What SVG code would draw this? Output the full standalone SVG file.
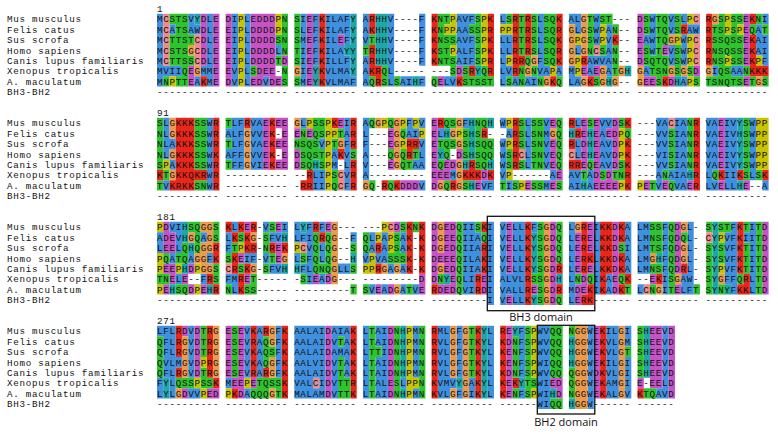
<svg xmlns="http://www.w3.org/2000/svg" width="778" height="434" viewBox="0 0 778 434">
<style>
.bg path{fill:none;stroke-width:1}
.b{stroke:#4090e0}.r{stroke:#e8261a}.m{stroke:#c652c6}.g{stroke:#2ec42e}.o{stroke:#ec9a4c}.y{stroke:#c8c400}.c{stroke:#1aa8a8}.p{stroke:#f08a8a}
.s{font-family:"Liberation Mono","DejaVu Sans Mono",monospace;font-size:9.2px;letter-spacing:0.72px;fill:#111}
.lab{font-family:"Open Sans","Liberation Sans",sans-serif;font-size:11px;fill:#111;text-anchor:middle}
.box{fill:none;stroke:#111;stroke-width:1.3}
</style>
<rect width="778" height="434" fill="#fff"/>
<g class="bg" transform="translate(157,13.8) scale(6.241,10.4)">
<g id="block1">
<path class="b" d="M0 .5h1M5 .5h1M8 .5h1M12 .5h1M14 .5h1M23 .5h1M25 .5h1M27 .5h4M33 .5h1M37 .5h1M42 .5h1M48 .5h3M55 .5h1M61 .5h1M66 .5h2M70 .5h1M79 .5h1M82 .5h1M84 .5h1M97 .5h1M0 1.5h1M2 1.5h1M5 1.5h2M8 1.5h1M12 1.5h1M14 1.5h1M23 1.5h1M25 1.5h1M27 1.5h4M33 1.5h1M37 1.5h1M42 1.5h1M48 1.5h2M61 1.5h1M67 1.5h1M70 1.5h1M72 1.5h1M79 1.5h1M82 1.5h1M85 1.5h2M96 1.5h1M0 2.5h1M8 2.5h1M12 2.5h1M14 2.5h1M23 2.5h1M25 2.5h1M27 2.5h2M30 2.5h1M33 2.5h1M37 2.5h1M42 2.5h1M48 2.5h3M55 2.5h2M61 2.5h1M70 2.5h1M72 2.5h1M78 2.5h2M84 2.5h1M96 2.5h2M0 3.5h1M8 3.5h1M12 3.5h1M14 3.5h1M19 3.5h1M23 3.5h1M25 3.5h1M27 3.5h3M37 3.5h1M42 3.5h1M48 3.5h3M55 3.5h2M61 3.5h1M67 3.5h1M72 3.5h1M79 3.5h1M82 3.5h1M84 3.5h1M96 3.5h2M0 4.5h1M8 4.5h1M12 4.5h1M14 4.5h1M23 4.5h1M25 4.5h1M27 4.5h4M33 4.5h1M37 4.5h1M42 4.5h1M48 4.5h3M55 4.5h1M61 4.5h1M69 4.5h4M82 4.5h1M84 4.5h1M97 4.5h1M0 5.5h4M7 5.5h2M12 5.5h1M14 5.5h1M23 5.5h1M27 5.5h4M33 5.5h1M37 5.5h1M55 5.5h2M61 5.5h2M64 5.5h1M66 5.5h1M69 5.5h1M72 5.5h1M78 5.5h1M89 5.5h1M92 5.5h2M0 6.5h1M6 6.5h1M8 6.5h1M12 6.5h1M14 6.5h1M17 6.5h1M23 6.5h1M27 6.5h5M33 6.5h1M37 6.5h1M39 6.5h2M42 6.5h1M46 6.5h2M55 6.5h1M57 6.5h1M59 6.5h2M66 6.5h2M84 6.5h1"/>
<path class="p" d="M1 .5h1M86 .5h1M1 1.5h1M1 2.5h1M6 2.5h1M86 2.5h1M1 3.5h1M6 3.5h1M70 3.5h1M86 3.5h1M1 4.5h1M6 4.5h1M86 4.5h1"/>
<path class="g" d="M2 .5h3M20 .5h1M22 .5h1M45 .5h2M51 .5h1M56 .5h1M58 .5h1M60 .5h1M62 .5h2M69 .5h1M71 .5h2M78 .5h1M80 .5h2M83 .5h1M90 .5h1M92 .5h2M96 .5h1M3 1.5h2M20 1.5h1M22 1.5h1M45 1.5h1M50 1.5h2M58 1.5h1M60 1.5h1M62 1.5h2M69 1.5h1M73 1.5h1M78 1.5h1M80 1.5h2M83 1.5h1M89 1.5h2M92 1.5h1M95 1.5h1M97 1.5h1M2 2.5h4M19 2.5h2M22 2.5h1M34 2.5h1M45 2.5h3M51 2.5h1M58 2.5h1M60 2.5h1M62 2.5h2M69 2.5h1M80 2.5h2M89 2.5h5M2 3.5h3M20 3.5h1M22 3.5h1M33 3.5h1M45 3.5h2M51 3.5h1M58 3.5h1M60 3.5h1M62 3.5h2M69 3.5h1M71 3.5h1M73 3.5h1M78 3.5h1M80 3.5h1M83 3.5h1M89 3.5h5M2 4.5h4M19 4.5h1M22 4.5h1M45 4.5h3M51 4.5h1M59 4.5h1M62 4.5h2M73 4.5h1M78 4.5h4M83 4.5h1M89 4.5h2M92 4.5h2M4 5.5h1M15 5.5h1M20 5.5h1M36 5.5h1M47 5.5h1M49 5.5h1M52 5.5h1M58 5.5h1M60 5.5h1M73 5.5h1M79 5.5h3M83 5.5h1M85 5.5h1M90 5.5h2M94 5.5h1M1 6.5h1M3 6.5h2M20 6.5h1M22 6.5h1M34 6.5h1M36 6.5h1M38 6.5h1M44 6.5h1M49 6.5h5M56 6.5h1M58 6.5h1M61 6.5h1M64 6.5h1M70 6.5h1M80 6.5h1M86 6.5h1M88 6.5h6M95 6.5h1M97 6.5h1"/>
<path class="c" d="M6 .5h1M31 .5h1M35 .5h2M31 1.5h1M35 1.5h2M31 2.5h1M35 2.5h2M30 3.5h2M35 3.5h2M31 4.5h1M35 4.5h2M25 5.5h1M31 5.5h1M51 5.5h1M75 5.5h1M25 6.5h1M41 6.5h1M72 6.5h1M83 6.5h1"/>
<path class="m" d="M7 .5h1M9 .5h1M11 .5h1M15 .5h4M24 .5h1M77 .5h1M94 .5h1M7 1.5h1M9 1.5h1M11 1.5h1M15 1.5h4M24 1.5h1M77 1.5h1M94 1.5h1M7 2.5h1M9 2.5h1M11 2.5h1M15 2.5h4M24 2.5h1M29 2.5h1M77 2.5h1M94 2.5h1M7 3.5h1M9 3.5h1M11 3.5h1M15 3.5h4M24 3.5h1M77 3.5h1M81 3.5h1M94 3.5h1M7 4.5h1M9 4.5h1M11 4.5h1M15 4.5h4M20 4.5h1M24 4.5h1M77 4.5h1M94 4.5h1M5 5.5h1M9 5.5h1M11 5.5h1M16 5.5h3M24 5.5h1M48 5.5h1M68 5.5h1M70 5.5h1M86 5.5h1M5 6.5h1M9 6.5h1M11 6.5h1M15 6.5h2M18 6.5h2M24 6.5h1M45 6.5h1M78 6.5h2M82 6.5h1M94 6.5h1"/>
<path class="y" d="M13 .5h1M19 .5h1M47 .5h1M52 .5h1M85 .5h1M91 .5h1M13 1.5h1M19 1.5h1M46 1.5h2M52 1.5h1M55 1.5h2M71 1.5h1M91 1.5h1M93 1.5h1M13 2.5h1M52 2.5h1M67 2.5h1M71 2.5h1M83 2.5h1M85 2.5h1M13 3.5h1M47 3.5h1M52 3.5h1M85 3.5h1M13 4.5h1M52 4.5h1M56 4.5h1M67 4.5h1M85 4.5h1M91 4.5h1M96 4.5h1M13 5.5h1M63 5.5h1M67 5.5h1M2 6.5h1M13 6.5h1M85 6.5h1"/>
<path class="r" d="M26 .5h1M34 .5h1M44 .5h1M53 .5h1M57 .5h1M59 .5h1M64 .5h1M88 .5h1M95 .5h1M26 1.5h1M34 1.5h1M44 1.5h1M53 1.5h1M57 1.5h1M59 1.5h1M64 1.5h1M84 1.5h1M88 1.5h1M26 2.5h1M44 2.5h1M53 2.5h1M57 2.5h1M59 2.5h1M64 2.5h1M73 2.5h1M88 2.5h1M95 2.5h1M26 3.5h1M34 3.5h1M44 3.5h1M53 3.5h1M57 3.5h1M59 3.5h1M64 3.5h1M88 3.5h1M95 3.5h1M26 4.5h1M34 4.5h1M44 4.5h1M53 4.5h1M57 4.5h2M64 4.5h1M68 4.5h1M88 4.5h1M95 4.5h1M26 5.5h1M34 5.5h2M50 5.5h1M53 5.5h1M57 5.5h1M95 5.5h3M7 6.5h1M26 6.5h1M35 6.5h1M48 6.5h1M63 6.5h1M69 6.5h1M81 6.5h1"/>
<path class="o" d="M68 .5h1M89 .5h1M66 1.5h1M68 1.5h1M66 2.5h1M68 2.5h1M82 2.5h1M5 3.5h1M66 3.5h1M68 3.5h1M60 4.5h1M66 4.5h1M6 5.5h1M22 5.5h1M59 5.5h1M71 5.5h1M74 5.5h1M77 5.5h1M82 5.5h1M84 5.5h1M88 5.5h1M62 6.5h1M68 6.5h1M71 6.5h1M73 6.5h1M77 6.5h1M96 6.5h1"/>
</g>
<g id="block2">
<path class="g" d="M0 10.5h1M6 10.5h2M11 10.5h1M25 10.5h2M34 10.5h1M37 10.5h1M46 10.5h2M51 10.5h2M58 10.5h1M60 10.5h2M64 10.5h1M69 10.5h1M74 10.5h1M85 10.5h1M94 10.5h1M0 11.5h1M6 11.5h2M23 11.5h1M25 11.5h2M29 11.5h1M39 11.5h1M49 11.5h1M51 11.5h1M58 11.5h1M60 11.5h2M64 11.5h1M75 11.5h1M82 11.5h1M85 11.5h1M94 11.5h1M0 12.5h1M6 12.5h2M11 12.5h1M22 12.5h4M28 12.5h1M45 12.5h3M49 12.5h1M51 12.5h3M58 12.5h1M60 12.5h2M64 12.5h1M82 12.5h1M85 12.5h1M94 12.5h1M0 13.5h1M6 13.5h2M23 13.5h4M31 13.5h1M37 13.5h1M39 13.5h1M41 13.5h1M46 13.5h1M49 13.5h1M51 13.5h3M56 13.5h1M60 13.5h2M64 13.5h1M82 13.5h1M85 13.5h1M94 13.5h1M0 14.5h1M6 14.5h2M11 14.5h1M23 14.5h2M26 14.5h1M39 14.5h2M45 14.5h1M51 14.5h2M56 14.5h1M58 14.5h1M60 14.5h2M64 14.5h1M69 14.5h1M74 14.5h1M82 14.5h1M85 14.5h1M94 14.5h1M1 15.5h1M28 15.5h1M68 15.5h1M71 15.5h1M73 15.5h2M81 15.5h1M89 15.5h1M94 15.5h1M96 15.5h1M0 16.5h1M6 16.5h2M28 16.5h1M34 16.5h1M37 16.5h1M46 16.5h1M49 16.5h1M55 16.5h1M57 16.5h1M60 16.5h2M64 16.5h1M79 16.5h1M82 16.5h1"/>
<path class="b" d="M1 10.5h1M8 10.5h1M12 10.5h2M15 10.5h2M23 10.5h1M30 10.5h1M33 10.5h1M40 10.5h1M42 10.5h1M49 10.5h1M55 10.5h1M59 10.5h1M62 10.5h1M67 10.5h1M71 10.5h2M80 10.5h2M83 10.5h2M88 10.5h2M91 10.5h2M95 10.5h1M1 11.5h1M8 11.5h1M11 11.5h3M15 11.5h2M30 11.5h1M33 11.5h1M40 11.5h2M45 11.5h1M56 11.5h1M59 11.5h1M62 11.5h1M71 11.5h1M80 11.5h2M83 11.5h2M88 11.5h2M91 11.5h2M95 11.5h1M1 12.5h2M8 12.5h1M12 12.5h2M15 12.5h2M26 12.5h1M30 12.5h1M33 12.5h1M42 12.5h1M55 12.5h1M59 12.5h1M62 12.5h1M67 12.5h1M71 12.5h2M80 12.5h2M83 12.5h2M88 12.5h2M91 12.5h2M95 12.5h1M1 13.5h1M8 13.5h1M11 13.5h3M15 13.5h2M28 13.5h1M30 13.5h1M33 13.5h1M42 13.5h1M55 13.5h1M59 13.5h1M62 13.5h1M67 13.5h1M71 13.5h2M80 13.5h2M83 13.5h2M88 13.5h2M91 13.5h2M95 13.5h1M2 14.5h1M8 14.5h1M12 14.5h2M15 14.5h2M28 14.5h1M30 14.5h1M33 14.5h1M41 14.5h2M55 14.5h1M59 14.5h1M62 14.5h1M71 14.5h2M80 14.5h2M83 14.5h2M88 14.5h2M91 14.5h2M95 14.5h1M8 15.5h1M25 15.5h2M30 15.5h1M33 15.5h1M47 15.5h1M55 15.5h1M63 15.5h1M66 15.5h2M69 15.5h1M80 15.5h1M82 15.5h3M88 15.5h1M91 15.5h2M95 15.5h1M1 16.5h1M8 16.5h1M25 16.5h2M30 16.5h1M42 16.5h1M52 16.5h2M56 16.5h1M62 16.5h1M66 16.5h2M69 16.5h1M80 16.5h1M83 16.5h2M88 16.5h2M91 16.5h2M97 16.5h1"/>
<path class="o" d="M2 10.5h1M22 10.5h1M35 10.5h1M38 10.5h1M48 10.5h1M2 11.5h1M14 11.5h1M38 11.5h1M47 11.5h1M63 11.5h1M14 12.5h1M29 12.5h1M38 12.5h1M48 12.5h1M2 13.5h1M14 13.5h1M38 13.5h1M14 14.5h1M38 14.5h1M48 14.5h1M2 15.5h1M48 15.5h1M33 16.5h1M45 16.5h1M48 16.5h1"/>
<path class="r" d="M3 10.5h3M9 10.5h1M14 10.5h1M18 10.5h1M28 10.5h1M31 10.5h1M45 10.5h1M57 10.5h1M66 10.5h1M75 10.5h1M86 10.5h1M3 11.5h3M9 11.5h1M18 11.5h1M31 11.5h1M52 11.5h1M57 11.5h1M67 11.5h1M86 11.5h1M3 12.5h3M9 12.5h1M18 12.5h1M31 12.5h1M40 12.5h2M57 12.5h1M66 12.5h1M75 12.5h1M86 12.5h1M3 13.5h3M9 13.5h1M18 13.5h1M29 13.5h1M40 13.5h1M57 13.5h1M75 13.5h1M86 13.5h1M3 14.5h3M9 14.5h1M18 14.5h1M31 14.5h1M50 14.5h1M57 14.5h1M66 14.5h2M75 14.5h1M86 14.5h1M0 15.5h1M3 15.5h5M9 15.5h1M24 15.5h1M31 15.5h1M49 15.5h3M53 15.5h1M75 15.5h1M86 15.5h1M90 15.5h1M93 15.5h1M97 15.5h1M2 16.5h4M9 16.5h1M23 16.5h2M31 16.5h1M36 16.5h1M38 16.5h1M47 16.5h1M75 16.5h1M86 16.5h1"/>
<path class="m" d="M17 10.5h1M19 10.5h2M29 10.5h1M44 10.5h1M63 10.5h1M68 10.5h1M70 10.5h1M73 10.5h1M90 10.5h1M17 11.5h1M20 11.5h1M22 11.5h1M24 11.5h1M37 11.5h1M44 11.5h1M68 11.5h1M70 11.5h1M72 11.5h2M90 11.5h1M17 12.5h1M19 12.5h2M37 12.5h1M44 12.5h1M63 12.5h1M68 12.5h1M70 12.5h1M73 12.5h1M90 12.5h1M17 13.5h1M20 13.5h1M22 13.5h1M44 13.5h1M48 13.5h1M63 13.5h1M68 13.5h1M70 13.5h1M73 13.5h1M90 13.5h1M17 14.5h1M19 14.5h2M22 14.5h1M37 14.5h1M44 14.5h1M46 14.5h2M63 14.5h1M68 14.5h1M70 14.5h1M73 14.5h1M90 14.5h1M44 15.5h3M52 15.5h1M64 15.5h1M70 15.5h1M72 15.5h1M39 16.5h3M44 16.5h1M51 16.5h1M59 16.5h1M63 16.5h1M70 16.5h4M78 16.5h1M81 16.5h1M85 16.5h1M90 16.5h1M94 16.5h1"/>
<path class="y" d="M24 10.5h1M27 10.5h1M36 10.5h1M39 10.5h1M41 10.5h1M56 10.5h1M96 10.5h2M27 11.5h2M42 11.5h1M48 11.5h1M74 11.5h1M96 11.5h2M27 12.5h1M39 12.5h1M56 12.5h1M74 12.5h1M96 12.5h2M27 13.5h1M74 13.5h1M96 13.5h2M1 14.5h1M27 14.5h1M96 14.5h2M27 15.5h1M56 15.5h1M27 16.5h1M58 16.5h1M74 16.5h1M77 16.5h1"/>
<path class="c" d="M50 10.5h1M53 10.5h1M93 10.5h1M46 11.5h1M50 11.5h1M66 11.5h1M69 11.5h1M93 11.5h1M50 12.5h1M69 12.5h1M93 12.5h1M45 13.5h1M50 13.5h1M69 13.5h1M93 13.5h1M25 14.5h1M49 14.5h1M53 14.5h1M93 14.5h1M85 15.5h1M50 16.5h1M68 16.5h1M93 16.5h1"/>
<path class="p" d="M82 10.5h1M58 13.5h1M66 13.5h1M29 15.5h1M29 16.5h1"/>
</g>
<g id="block3">
<path class="y" d="M0 20.5h1M36 20.5h1M35 21.5h1M37 21.5h1M90 21.5h1M13 22.5h1M22 22.5h1M37 22.5h1M0 23.5h1M34 23.5h1M0 24.5h1M3 24.5h1M6 24.5h1M33 24.5h2M90 24.5h1M0 26.5h1M6 26.5h1"/>
<path class="m" d="M1 20.5h1M14 20.5h1M19 20.5h1M27 20.5h1M38 20.5h1M44 20.5h1M46 20.5h2M56 20.5h1M63 20.5h1M69 20.5h1M73 20.5h1M83 20.5h1M97 20.5h1M1 21.5h2M44 21.5h1M46 21.5h2M56 21.5h1M63 21.5h1M67 21.5h1M69 21.5h1M73 21.5h1M83 21.5h1M97 21.5h1M1 22.5h2M19 22.5h1M44 22.5h1M46 22.5h2M56 22.5h1M63 22.5h1M67 22.5h1M69 22.5h1M73 22.5h1M83 22.5h1M97 22.5h1M13 23.5h1M19 23.5h1M44 23.5h4M56 23.5h1M63 23.5h1M67 23.5h1M73 23.5h1M83 23.5h1M97 23.5h1M1 24.5h2M5 24.5h1M44 24.5h1M46 24.5h2M56 24.5h1M63 24.5h1M67 24.5h1M69 24.5h1M73 24.5h1M83 24.5h1M97 24.5h1M2 25.5h1M4 25.5h1M14 25.5h1M25 25.5h1M27 25.5h1M42 25.5h1M44 25.5h1M47 25.5h1M52 25.5h1M63 25.5h1M68 25.5h1M73 25.5h1M79 25.5h1M97 25.5h1M1 26.5h1M5 26.5h1M7 26.5h1M35 26.5h1M37 26.5h1M42 26.5h1M45 26.5h3M52 26.5h1M60 26.5h1M63 26.5h1M67 26.5h2M73 26.5h1M83 26.5h1M97 26.5h1M56 27.5h1M63 27.5h1M67 27.5h1"/>
<path class="b" d="M2 20.5h2M12 20.5h1M17 20.5h1M20 20.5h1M22 20.5h1M24 20.5h1M26 20.5h1M49 20.5h2M53 20.5h1M55 20.5h1M57 20.5h2M60 20.5h1M66 20.5h1M70 20.5h1M75 20.5h1M77 20.5h2M81 20.5h1M85 20.5h1M92 20.5h1M95 20.5h1M0 21.5h1M3 21.5h1M7 21.5h1M11 21.5h1M18 21.5h2M22 21.5h3M31 21.5h1M34 21.5h1M36 21.5h1M39 21.5h1M49 21.5h3M53 21.5h1M55 21.5h1M57 21.5h2M66 21.5h1M70 21.5h1M75 21.5h1M77 21.5h2M81 21.5h1M85 21.5h1M91 21.5h2M94 21.5h2M0 22.5h1M3 22.5h1M11 22.5h1M24 22.5h1M26 22.5h1M34 22.5h1M36 22.5h1M39 22.5h1M49 22.5h3M53 22.5h1M55 22.5h1M57 22.5h2M66 22.5h1M70 22.5h1M75 22.5h1M77 22.5h2M81 22.5h1M85 22.5h1M91 22.5h2M95 22.5h1M2 23.5h1M5 23.5h1M8 23.5h1M14 23.5h2M17 23.5h1M22 23.5h1M24 23.5h1M26 23.5h1M33 23.5h1M35 23.5h2M49 23.5h3M53 23.5h1M55 23.5h1M57 23.5h2M66 23.5h1M70 23.5h1M75 23.5h1M77 23.5h2M81 23.5h1M85 23.5h1M91 23.5h2M95 23.5h1M18 24.5h2M23 24.5h2M29 24.5h2M37 24.5h1M39 24.5h1M49 24.5h3M53 24.5h1M55 24.5h1M57 24.5h2M66 24.5h1M70 24.5h1M75 24.5h1M77 24.5h2M81 24.5h1M85 24.5h1M91 24.5h2M95 24.5h1M3 25.5h1M7 25.5h1M11 25.5h2M24 25.5h1M26 25.5h1M49 25.5h2M53 25.5h1M55 25.5h4M66 25.5h1M70 25.5h1M72 25.5h1M81 25.5h1M84 25.5h2M91 25.5h2M95 25.5h1M12 26.5h1M34 26.5h1M36 26.5h1M39 26.5h1M41 26.5h1M49 26.5h2M53 26.5h1M55 26.5h4M66 26.5h1M70 26.5h1M72 26.5h1M77 26.5h1M81 26.5h1M84 26.5h2M92 26.5h1M95 26.5h1M53 27.5h1M55 27.5h1M57 27.5h2M66 27.5h1"/>
<path class="c" d="M4 20.5h1M23 20.5h1M89 20.5h1M4 21.5h1M20 21.5h1M60 21.5h1M89 21.5h1M5 22.5h1M60 22.5h1M89 22.5h1M31 23.5h1M60 23.5h1M80 23.5h1M89 23.5h1M4 24.5h1M20 24.5h1M22 24.5h1M60 24.5h1M89 24.5h1M46 25.5h1M64 25.5h1M89 25.5h1M2 26.5h1M8 26.5h1M89 26.5h1M91 26.5h1M60 27.5h1"/>
<path class="g" d="M5 20.5h2M9 20.5h1M18 20.5h1M39 20.5h1M41 20.5h1M48 20.5h1M51 20.5h1M61 20.5h1M64 20.5h1M79 20.5h2M82 20.5h1M88 20.5h1M90 20.5h2M94 20.5h1M96 20.5h1M6 21.5h1M9 21.5h1M13 21.5h1M17 21.5h1M25 21.5h1M27 21.5h1M33 21.5h1M38 21.5h1M48 21.5h1M52 21.5h1M61 21.5h1M64 21.5h1M79 21.5h2M82 21.5h1M84 21.5h1M96 21.5h1M4 22.5h1M6 22.5h1M12 22.5h1M17 22.5h1M25 22.5h1M27 22.5h1M31 22.5h1M33 22.5h1M38 22.5h1M48 22.5h1M61 22.5h1M64 22.5h1M74 22.5h1M79 22.5h2M82 22.5h1M88 22.5h1M90 22.5h1M94 22.5h1M96 22.5h1M1 23.5h1M3 23.5h2M11 23.5h1M18 23.5h1M23 23.5h1M25 23.5h1M27 23.5h1M37 23.5h3M48 23.5h1M61 23.5h1M64 23.5h1M82 23.5h1M88 23.5h1M90 23.5h1M94 23.5h1M96 23.5h1M9 24.5h1M13 24.5h1M17 24.5h1M25 24.5h3M31 24.5h1M48 24.5h1M61 24.5h1M79 24.5h2M82 24.5h1M88 24.5h1M94 24.5h1M96 24.5h1M0 25.5h2M9 25.5h1M15 25.5h1M23 25.5h1M45 25.5h1M48 25.5h1M60 25.5h2M67 25.5h1M69 25.5h1M74 25.5h1M82 25.5h1M88 25.5h1M93 25.5h1M96 25.5h1M3 26.5h2M11 26.5h1M14 26.5h2M31 26.5h1M33 26.5h1M40 26.5h1M48 26.5h1M61 26.5h1M75 26.5h1M79 26.5h1M82 26.5h1M86 26.5h1M88 26.5h1M90 26.5h1M96 26.5h1M61 27.5h1M64 27.5h1"/>
<path class="o" d="M7 20.5h2M28 20.5h1M45 20.5h1M62 20.5h1M67 20.5h1M84 20.5h1M5 21.5h1M8 21.5h1M15 21.5h1M28 21.5h1M45 21.5h1M62 21.5h1M7 22.5h2M28 22.5h1M45 22.5h1M62 22.5h1M84 22.5h1M6 23.5h2M20 23.5h1M28 23.5h1M62 23.5h1M79 23.5h1M84 23.5h1M7 24.5h2M15 24.5h1M28 24.5h1M36 24.5h1M38 24.5h1M45 24.5h1M62 24.5h1M28 25.5h1M62 25.5h1M83 25.5h1M90 25.5h1M38 26.5h1M62 26.5h1M80 26.5h1M62 27.5h1"/>
<path class="r" d="M11 20.5h1M13 20.5h1M15 20.5h1M25 20.5h1M40 20.5h1M42 20.5h1M52 20.5h1M59 20.5h1M68 20.5h1M71 20.5h2M74 20.5h1M93 20.5h1M12 21.5h1M14 21.5h1M26 21.5h1M40 21.5h1M42 21.5h1M59 21.5h1M68 21.5h1M71 21.5h2M74 21.5h1M93 21.5h1M9 22.5h1M14 22.5h2M18 22.5h1M20 22.5h1M35 22.5h1M40 22.5h1M42 22.5h1M52 22.5h1M59 22.5h1M68 22.5h1M71 22.5h2M93 22.5h1M9 23.5h1M12 23.5h1M40 23.5h1M42 23.5h1M52 23.5h1M59 23.5h1M68 23.5h2M71 23.5h2M74 23.5h1M93 23.5h1M12 24.5h1M14 24.5h1M35 24.5h1M40 24.5h1M42 24.5h1M52 24.5h1M59 24.5h1M64 24.5h1M68 24.5h1M71 24.5h2M74 24.5h1M84 24.5h1M93 24.5h1M8 25.5h1M13 25.5h1M51 25.5h1M59 25.5h1M71 25.5h1M75 25.5h1M80 25.5h1M94 25.5h1M9 26.5h1M13 26.5h1M44 26.5h1M51 26.5h1M59 26.5h1M64 26.5h1M69 26.5h1M71 26.5h1M74 26.5h1M93 26.5h2M59 27.5h1M68 27.5h2"/>
<path class="p" d="M37 20.5h1M88 21.5h1M23 22.5h1M11 24.5h1M78 26.5h1"/>
</g>
<g id="block4">
<path class="b" d="M0 30.5h3M5 30.5h1M14 30.5h1M16 30.5h1M19 30.5h1M22 30.5h5M28 30.5h3M33 30.5h1M35 30.5h2M41 30.5h1M45 30.5h2M48 30.5h1M53 30.5h1M58 30.5h1M61 30.5h2M69 30.5h1M72 30.5h2M75 30.5h1M81 30.5h1M1 31.5h2M5 31.5h1M14 31.5h1M16 31.5h1M19 31.5h1M22 31.5h5M28 31.5h1M30 31.5h1M33 31.5h1M35 31.5h2M41 31.5h1M45 31.5h2M48 31.5h1M53 31.5h1M58 31.5h1M61 31.5h2M69 31.5h1M72 31.5h2M75 31.5h1M81 31.5h1M1 32.5h2M5 32.5h1M14 32.5h1M16 32.5h1M19 32.5h1M22 32.5h5M28 32.5h3M33 32.5h1M36 32.5h1M41 32.5h1M45 32.5h2M48 32.5h1M53 32.5h1M58 32.5h1M61 32.5h2M69 32.5h1M72 32.5h2M81 32.5h1M1 33.5h3M5 33.5h1M14 33.5h1M16 33.5h1M19 33.5h1M22 33.5h5M28 33.5h1M30 33.5h1M33 33.5h1M35 33.5h2M41 33.5h1M45 33.5h2M48 33.5h1M53 33.5h1M58 33.5h1M61 33.5h2M69 33.5h1M72 33.5h2M75 33.5h1M81 33.5h1M1 34.5h2M5 34.5h1M14 34.5h1M16 34.5h1M19 34.5h1M22 34.5h5M28 34.5h1M30 34.5h1M33 34.5h1M35 34.5h2M41 34.5h1M45 34.5h2M48 34.5h1M53 34.5h1M58 34.5h1M61 34.5h2M69 34.5h1M72 34.5h2M75 34.5h1M81 34.5h1M0 35.5h1M2 35.5h1M11 35.5h1M22 35.5h3M26 35.5h1M28 35.5h1M33 35.5h1M35 35.5h2M39 35.5h1M45 35.5h3M50 35.5h1M53 35.5h1M61 35.5h2M69 35.5h1M72 35.5h2M75 35.5h1M81 35.5h1M0 36.5h1M2 36.5h1M5 36.5h2M14 36.5h1M22 36.5h5M28 36.5h1M33 36.5h1M35 36.5h2M41 36.5h1M45 36.5h2M48 36.5h1M50 36.5h1M53 36.5h1M58 36.5h1M61 36.5h2M69 36.5h1M72 36.5h2M75 36.5h1M80 36.5h2M61 37.5h2M69 37.5h1"/>
<path class="r" d="M3 30.5h1M8 30.5h1M15 30.5h1M17 30.5h1M20 30.5h1M31 30.5h1M44 30.5h1M51 30.5h1M55 30.5h1M71 30.5h1M3 31.5h1M8 31.5h1M15 31.5h1M20 31.5h1M31 31.5h1M44 31.5h1M51 31.5h1M55 31.5h1M71 31.5h1M3 32.5h1M8 32.5h1M15 32.5h1M20 32.5h1M31 32.5h1M44 32.5h1M51 32.5h1M55 32.5h1M71 32.5h1M8 33.5h1M15 33.5h1M20 33.5h1M31 33.5h1M44 33.5h1M51 33.5h1M55 33.5h1M71 33.5h1M3 34.5h1M8 34.5h1M15 34.5h1M17 34.5h1M20 34.5h1M31 34.5h1M44 34.5h1M51 34.5h1M55 34.5h1M71 34.5h1M9 35.5h1M20 35.5h1M31 35.5h1M44 35.5h1M51 35.5h1M55 35.5h1M57 35.5h1M71 35.5h1M12 36.5h1M20 36.5h1M31 36.5h1M44 36.5h1M51 36.5h1M55 36.5h1M71 36.5h1M77 36.5h1"/>
<path class="m" d="M4 30.5h1M6 30.5h1M11 30.5h1M13 30.5h1M27 30.5h1M37 30.5h1M56 30.5h1M70 30.5h1M79 30.5h2M82 30.5h1M6 31.5h1M11 31.5h1M13 31.5h1M27 31.5h1M37 31.5h1M56 31.5h1M70 31.5h1M79 31.5h2M82 31.5h1M6 32.5h1M11 32.5h1M13 32.5h1M27 32.5h1M37 32.5h1M56 32.5h1M70 32.5h1M79 32.5h2M82 32.5h1M6 33.5h1M11 33.5h1M13 33.5h1M27 33.5h1M37 33.5h1M56 33.5h1M70 33.5h1M79 33.5h2M82 33.5h1M6 34.5h1M11 34.5h1M13 34.5h1M27 34.5h1M37 34.5h1M56 34.5h1M70 34.5h1M79 34.5h2M82 34.5h1M12 35.5h2M15 35.5h1M27 35.5h1M37 35.5h1M56 35.5h1M63 35.5h2M70 35.5h1M77 35.5h1M79 35.5h2M82 35.5h1M4 36.5h1M8 36.5h2M13 36.5h1M27 36.5h1M37 36.5h1M56 36.5h1M64 36.5h1M70 36.5h1M82 36.5h1"/>
<path class="g" d="M7 30.5h1M12 30.5h1M34 30.5h1M38 30.5h1M42 30.5h1M50 30.5h1M59 30.5h1M63 30.5h2M66 30.5h1M77 30.5h1M0 31.5h1M7 31.5h1M12 31.5h1M17 31.5h1M29 31.5h1M34 31.5h1M38 31.5h1M42 31.5h1M50 31.5h1M57 31.5h1M59 31.5h1M63 31.5h2M77 31.5h1M0 32.5h1M7 32.5h1M12 32.5h1M17 32.5h2M34 32.5h2M38 32.5h1M42 32.5h1M50 32.5h1M57 32.5h1M59 32.5h1M63 32.5h2M75 32.5h1M77 32.5h1M0 33.5h1M12 33.5h1M17 33.5h1M29 33.5h1M34 33.5h1M38 33.5h1M42 33.5h1M50 33.5h1M57 33.5h1M59 33.5h1M63 33.5h2M77 33.5h1M0 34.5h1M7 34.5h1M12 34.5h1M29 34.5h1M34 34.5h1M38 34.5h1M42 34.5h1M50 34.5h1M57 34.5h1M59 34.5h1M63 34.5h2M66 34.5h1M77 34.5h1M3 35.5h3M7 35.5h2M16 35.5h4M29 35.5h2M34 35.5h1M38 35.5h1M42 35.5h1M59 35.5h2M66 35.5h1M15 36.5h3M19 36.5h1M29 36.5h2M34 36.5h1M38 36.5h1M42 36.5h1M57 36.5h1M59 36.5h1M66 36.5h1M78 36.5h2M63 37.5h2"/>
<path class="o" d="M9 30.5h1M18 30.5h1M47 30.5h1M49 30.5h1M67 30.5h2M74 30.5h1M4 31.5h1M9 31.5h1M18 31.5h1M47 31.5h1M49 31.5h1M67 31.5h2M74 31.5h1M4 32.5h1M9 32.5h1M47 32.5h1M49 32.5h1M67 32.5h2M74 32.5h1M4 33.5h1M9 33.5h1M18 33.5h1M47 33.5h1M49 33.5h1M67 33.5h2M74 33.5h1M4 34.5h1M9 34.5h1M18 34.5h1M47 34.5h1M49 34.5h1M67 34.5h2M74 34.5h1M49 35.5h1M67 35.5h2M74 35.5h1M3 36.5h1M18 36.5h1M47 36.5h1M49 36.5h1M67 36.5h2M74 36.5h1M67 37.5h2"/>
<path class="c" d="M39 30.5h1M52 30.5h1M57 30.5h1M78 30.5h1M39 31.5h1M52 31.5h1M66 31.5h1M78 31.5h1M39 32.5h1M52 32.5h1M66 32.5h1M78 32.5h1M39 33.5h1M52 33.5h1M66 33.5h1M78 33.5h1M39 34.5h1M52 34.5h1M78 34.5h1M1 35.5h1M48 35.5h1M52 35.5h1M58 35.5h1M1 36.5h1M39 36.5h1M52 36.5h1M63 36.5h1M66 37.5h1"/>
<path class="y" d="M40 30.5h1M60 30.5h1M40 31.5h1M60 31.5h1M40 32.5h1M60 32.5h1M7 33.5h1M40 33.5h1M60 33.5h1M40 34.5h1M60 34.5h1M6 35.5h1M14 35.5h1M40 35.5h2M7 36.5h1M11 36.5h1M40 36.5h1M60 36.5h1"/>
<path class="p" d="M25 35.5h1"/>
</g>
</g>
<g id="names" class="s">
<text x="7" y="22.4">Mus musculus</text><text x="7" y="32.8">Felis catus</text><text x="7" y="43.2">Sus scrofa</text><text x="7" y="53.6">Homo sapiens</text><text x="7" y="64">Canis lupus familiaris</text><text x="7" y="74.4">Xenopus tropicalis</text><text x="7" y="84.8">A. maculatum</text><text x="7" y="95.2">BH3-BH2</text>
<text x="7" y="126.4">Mus musculus</text><text x="7" y="136.8">Felis catus</text><text x="7" y="147.2">Sus scrofa</text><text x="7" y="157.6">Homo sapiens</text><text x="7" y="168">Canis lupus familiaris</text><text x="7" y="178.4">Xenopus tropicalis</text><text x="7" y="188.8">A. maculatum</text><text x="7" y="199.2">BH3-BH2</text>
<text x="7" y="230.4">Mus musculus</text><text x="7" y="240.8">Felis catus</text><text x="7" y="251.2">Sus scrofa</text><text x="7" y="261.6">Homo sapiens</text><text x="7" y="272">Canis lupus familiaris</text><text x="7" y="282.4">Xenopus tropicalis</text><text x="7" y="292.8">A. maculatum</text><text x="7" y="303.2">BH3-BH2</text>
<text x="7" y="334.4">Mus musculus</text><text x="7" y="344.8">Felis catus</text><text x="7" y="355.2">Sus scrofa</text><text x="7" y="365.6">Homo sapiens</text><text x="7" y="376">Canis lupus familiaris</text><text x="7" y="386.4">Xenopus tropicalis</text><text x="7" y="396.8">A. maculatum</text><text x="7" y="407.2">BH3-BH2</text>
</g>
<g id="numbers" class="s">
<text x="157" y="12">1</text><text x="157" y="116">91</text><text x="157" y="220">181</text><text x="157" y="324">271</text>
</g>
<g id="sequences" class="s" xml:space="preserve">
<text x="157" y="22.4">MCSTSVYDLE DIPLEDDDPN SIEFKILAFY ARHHV----F KNTPAVFSPK LSRTRSLSQK ALGTWST--- DSWTQVSLPC RGSPSSEKNI</text>
<text x="157" y="32.8">MCATSAWDLE EIPLDDDDPN SLEFKILAFY AKHHV----F KNPPAASSPR PPRTRSLSQR GLGSWPAN-- DSWTQVSRAW RTSPSPEQAT</text>
<text x="157" y="43.2">MCTTSTCDLE EIPLDDDDSN SMEFKILEFY VTHHV----F KNSSAVFSPK LLRTRSLSQK GPGSWPVK-- EAWTQGPWPC RSSQSSEKAI</text>
<text x="157" y="53.6">MCSTSGCDLE EIPLDDDDLN TIEFKILAYY TRHHV----F KSTPALFSPK LLRTRSLSQR GLGNCSAN-- ESWTEVSWPC RNSQSSEKAI</text>
<text x="157" y="64">MCTTSSCDLE EIPLDDDDTD SIEFKILLFY ARHHV----F KNTSAIFSPR LPRRQGFSQK GPRAWVAN-- DSQTQVSWPC RNSPSSEKPF</text>
<text x="157" y="74.4">MVIIQEGMME EVPLSDEE-N GIEYKVLMAY AKRQL----- ---SDSRYQR LVRNGNVAPA MPEAEGATGH GATSNGSGSD GIQSAANKKK</text>
<text x="157" y="84.8">MNPTTEAKME DVPLEDVDES SMEYKVLMAF AQRSLSAIHF QELVKSTSST LSANAINGKQ LAGKSGHG-- GEESKDHAPS TSNQTSETGS</text>
<text x="157" y="95.2">---------- ---------- ---------- ---------- ---------- ---------- ---------- ---------- ----------</text>
<text x="157" y="126.4">SLGKKKSSWR TLFRVAEKEE GLPSSPKEIR AQGPQGPFPV ERQSGFHNQH WPRSLSSVEQ RLESEVVDSK ---VACIANR VAEIVYSWPP</text>
<text x="157" y="136.8">NLGKKKSSWR ALFGVVEK-E ENEQSPPTAR L---EGQAIP ELHGPSHSR- -ARSLSNMGQ HREHEAEDPQ ---VVSIANR VAEIVHSWPP</text>
<text x="157" y="147.2">NLAKKKSSWR TLFGVAEKEE NSQSVPTGFR F---EGPRRV ETQSGSHSQQ WPRSLSNVEQ RLDHEAVDPK ---VVSIANR VAEIVYSWPP</text>
<text x="157" y="157.6">NLGKKKSSWK AFFGVVEK-E DSQSTPAKVS A---QGQRTL EYQ-DSHSQQ WSRCLSNVEQ CLEHEAVDPK ---VISIANR VAEIVYSWPP</text>
<text x="157" y="168">SPAKKKSSWR TFFGVIEKEE DSQHSPM-LR V---EGQTAA EQEDGHRSQH WSRSLTNVEQ RREQEAVDSK ---VVSIANR VAEIVYSWPP</text>
<text x="157" y="178.4">KTGKKQKRWR ---------- --RLIPSCVR A--------- EEEMGKKKDK VP------AE AVTADSDTNR ---ANAIAHR LQKIIKSLSK</text>
<text x="157" y="188.8">TVKRKKSNWR ---------- -RRIIPQCFR GQ-RQKDDDV DGQRGSHEVF TISPESSMES AIHAEEEEPK PETVEQVAER LVELLHE--A</text>
<text x="157" y="199.2">---------- ---------- ---------- ---------- ---------- ---------- ---------- ---------- ----------</text>
<text x="157" y="230.4">PDVIHSQGGS KLKER-VSEI LYFRFEG--- ---PCDSKNK DGEDQIISKI VELLKFSGDQ LGREIKKDKA LMSSFQDGL- SYSTFKTITD</text>
<text x="157" y="240.8">ADEVHGQAGS LKSKG-SFVH LFIQRQG--F QLPAPSAK-K DGEEQIIAQI VELLKYSGDQ LERELKKDKA LMNSFQDQL- CYPVFKIITD</text>
<text x="157" y="251.2">LEELQHQGGR FTPKR-NREK PCVQLQG--S QARAPSAK-K DGEDQIIARI VELLKYSGDQ LERELKKDSI LMTSFQDGL- SYSVFKTITD</text>
<text x="157" y="261.6">PQATQAGGFK SKEIF-VTEG LSFQLQG--H VPVASSSK-K DEEEQILAKI VELLKYSGDQ LERKLKKDKA LMGHFQDGL- SYSVFKTITD</text>
<text x="157" y="272">PEEPHDPGGS CRSKG-SFVH HFLQNQGLLS PPRGAGAK-K DGEDQIIAKI VELLKYSGDR LERELKKDKA LMNSFQDRL- SYPVFKTITD</text>
<text x="157" y="282.4">TNELE--FRS FMRET----- -SIEADG--- ---------D DNYEQLIREI ALVLRSSGDH LNDQIKAEQK --EKISGAW- SYGFFQRLTD</text>
<text x="157" y="292.8">PEHSQDPEHR NLKSS----- ---------T SVEADGATVE RDEDQVIRDI VALLRESGDR MDEKIKADKT LCNGITELFT SYNYFKKLTD</text>
<text x="157" y="303.2">---------- ---------- ---------- ---------- ---------I VELLKYSGDQ LERK------ ---------- ----------</text>
<text x="157" y="334.4">LFLRDVDTRG ESEVKARGFK AALAIDAIAK LTAIDNHPMN RMLGFGTKYL REYFSPWVQQ NGGWEKILGI SHEEVD</text>
<text x="157" y="344.8">QFLRGVDTRG ESEVRAQGFK AALAIDVTAK LTAIDNHPMN RVLGFGTKYL KDNFSPWVQQ HGGWEKVLGM SHEEVD</text>
<text x="157" y="355.2">QFLRGVDTRG ESEVKAQSFK AALAIDAMAK LTTIDNHPMN RVLGFGTKYL KENFSPWVQQ HGGWEKVLGT SHEEVD</text>
<text x="157" y="365.6">QVLMGVDPRG ESEVKAQGFK AALVIDVTAK LTAIDNHPMN RVLGFGTKYL KENFSPWIQQ HGGWEKILGI SHEEVD</text>
<text x="157" y="376">QFLRGVDTRG ESEVRARGFK AALAIDVTAK LTAIDNHPMN RVLGFGTKYL KDNFSPWVQQ QGGWDKVLGI SHEEVD</text>
<text x="157" y="386.4">FYLQSSPSSK MEEPETQSSK VALCIDVTTR LTALESLPPN KVMVYGAKYL KEKYTSWIED QGGWEKAMGI E-EELD</text>
<text x="157" y="396.8">LYLGDVVPED PKDAQQQGTK MALAMDVTTK LTAIDNHPMN KVLGFGIKYL KENFSPWIHD NGGWEKALGV KTQAVD</text>
<text x="157" y="407.2">---------- ---------- ---------- ---------- ---------- ------WIQQ HGGW------ ------</text>
</g>
<g id="domains">
<rect class="box" x="487.3" y="216.3" width="107.5" height="94.4"/>
<text class="lab" x="541" y="321">BH3 domain</text>
<rect class="box" x="537.3" y="325.3" width="57.5" height="88.7"/>
<text class="lab" x="566" y="426">BH2 domain</text>
</g>
</svg>
